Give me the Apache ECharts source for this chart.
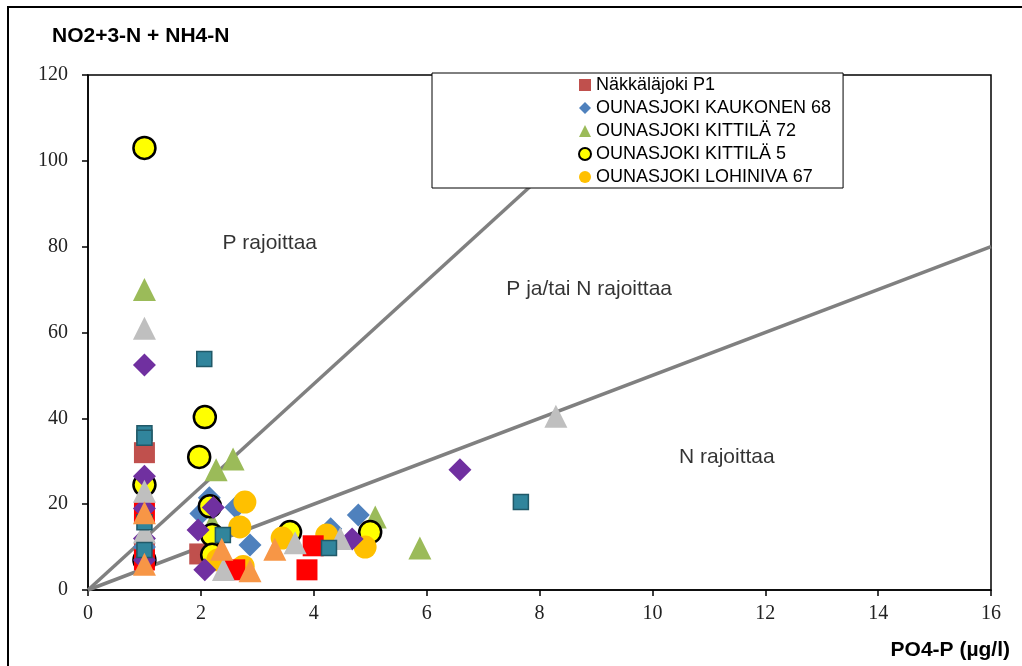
<!DOCTYPE html>
<html><head><meta charset="utf-8">
<script src="https://cdn.jsdelivr.net/npm/echarts@6/dist/echarts.min.js"></script>
<style>html,body{margin:0;padding:0;background:#fff}#c{width:1022px;height:666px}</style>
</head><body><div id="c"></div>
<script>
// ---- axes ----
const xMin = 0, xMax = 16, xStep = 2;
const yMin = 0, yMax = 120, yStep = 20;
const yTitle = 'NO2+3-N + NH4-N';
const xTitle = 'PO4-P (µg/l)';

// ---- N:P ratio limit lines (slopes) ----
const limitSlopes = [5, 12];

// ---- region labels [x, y, text] ----
const regionLabels = [
  [3.22, 80.9, 'P rajoittaa'],
  [8.88, 70.1, 'P ja/tai N rajoittaa'],
  [11.32, 31.0, 'N rajoittaa']
];

// ---- series data [PO4-P, N] ----
const nakkalajokiP1 = [[1,32],[1,9],[1.98,8.4]];
const kaukonen68 = [[2.15,21.5],[2.62,19.3],[2.0,17.8],[2.87,10.5],[4.3,14.3],[4.79,17.5],[1,10]];
const kittila72 = [[1,70],[2.27,28],[2.57,30.5],[5.09,17],[5.88,9.8],[2.2,15.5]];
const kittila5 = [[1,103],[2.07,40.3],[1.97,31],[1,24.5],[2.16,19.5],[2.2,12.8],[2.2,8.2],[3.58,13.5],[5.0,13.5],[1,7]];
const lohiniva67 = [[2.78,20.5],[2.69,14.7],[3.44,12.1],[4.23,12.8],[4.91,10],[2.75,5.5],[2.3,7]];
const purpleSeries = [[1,52.4],[1,26.5],[1,19],[1,12],[1,7],[1.95,14],[2.22,19.2],[2.07,4.7],[4.68,11.9],[6.59,28]];
const graySeries = [[1,61],[8.29,40.5],[2.4,4.8],[3.67,11],[4.47,12],[1,23],[1,13.5]];
const redSeries = [[3.99,10.3],[3.88,4.7],[2.6,4.7],[1,18],[1,7]];
const tealSeries = [[2.06,53.8],[1,36.5],[1,35.5],[7.67,20.5],[4.27,9.8],[2.39,12.8],[1,15.8],[1,9.3]];
const orangeTriSeries = [[1,18],[1,6],[2.37,9.5],[2.87,4.5],[3.31,9.5]];

const legendNames = ['Näkkäläjoki P1','OUNASJOKI KAUKONEN 68','OUNASJOKI KITTILÄ 72','OUNASJOKI KITTILÄ 5','OUNASJOKI LOHINIVA 67'];

function sc(name, data, symbol, size, color, border, bw) {
  return {
    type: 'scatter', name: name, data: data, symbol: symbol, symbolSize: size,
    itemStyle: { color: color, borderColor: border || color, borderWidth: bw || 0, opacity: 1 },
    emphasis: { disabled: true }, z: 3
  };
}

function limitLine(s) {
  const xe = Math.min(xMax, yMax / s);
  return {
    type: 'line', data: [[0, 0], [xe, xe * s]], symbol: 'none', silent: true,
    lineStyle: { color: '#808080', width: 3.5 }, z: 2, emphasis: { disabled: true }
  };
}

const chart = echarts.init(document.getElementById('c'));
chart.setOption({
  animation: false,
  backgroundColor: '#fff',
  title: [
    { text: yTitle, left: 52, top: 26, padding: 0,
      textStyle: { fontFamily: 'Liberation Sans', fontWeight: 'bold', fontSize: 21, color: '#000' } },
    { text: xTitle, right: 12, top: 640, padding: 0,
      textStyle: { fontFamily: 'Liberation Sans', fontWeight: 'bold', fontSize: 21, color: '#000' } }
  ],
  graphic: [{
    type: 'rect', shape: { x: 8, y: 7, width: 1040, height: 720 },
    style: { fill: null, stroke: '#000', lineWidth: 2 }, silent: true, z: -1
  }],
  grid: { left: 88, right: 31, top: 75, bottom: 76, show: true, borderColor: '#000', borderWidth: 1.5 },
  legend: {
    data: legendNames, orient: 'vertical', left: 432, top: 73,
    padding: [3, 12, 2, 146], itemGap: 5, itemWidth: 12, itemHeight: 12,
    backgroundColor: '#fff', borderColor: '#000', borderWidth: 1,
    textStyle: { fontFamily: 'Liberation Sans', fontSize: 18, color: '#000' },
    selectedMode: false, z: 10
  },
  xAxis: {
    type: 'value', min: xMin, max: xMax, interval: xStep,
    axisLine: { show: true, lineStyle: { color: '#000', width: 1.5 } },
    axisTick: { show: true, length: 6, lineStyle: { color: '#000', width: 1.5 } },
    axisLabel: { fontFamily: 'Liberation Serif', fontSize: 20, color: '#222', margin: 14 },
    splitLine: { show: false }
  },
  yAxis: {
    type: 'value', min: yMin, max: yMax, interval: yStep,
    axisLine: { show: true, lineStyle: { color: '#000', width: 1.5 } },
    axisTick: { show: true, length: 6, lineStyle: { color: '#000', width: 1.5 } },
    axisLabel: { fontFamily: 'Liberation Serif', fontSize: 20, color: '#222', margin: 20 },
    splitLine: { show: false }
  },
  series: [
    limitLine(limitSlopes[0]),
    limitLine(limitSlopes[1]),
    {
      type: 'scatter', data: regionLabels.map(d => ({ value: [d[0], d[1]], label: { formatter: d[2] } })),
      symbolSize: 0, silent: true, z: 4,
      label: { show: true, position: 'inside', fontFamily: 'Liberation Sans', fontSize: 21, color: '#000' }
    },
    sc(legendNames[0], nakkalajokiP1, 'rect', 21, '#C0504D'),
    sc(legendNames[1], kaukonen68, 'diamond', 23, '#4F81BD'),
    sc(legendNames[2], kittila72, 'triangle', 23, '#9BBB59'),
    sc(legendNames[3], kittila5, 'circle', 22, '#FFFF00', '#000', 2.5),
    sc(legendNames[4], lohiniva67, 'circle', 23, '#FFC000'),
    sc('Sarja8', redSeries, 'rect', 21, '#FF0000'),
    sc('Sarja6', purpleSeries, 'diamond', 23, '#7030A0'),
    sc('Sarja7', graySeries, 'triangle', 23, '#BFBFBF'),
    sc('Sarja9', tealSeries, 'rect', 15, '#31859C', '#215968', 1.5),
    sc('Sarja10', orangeTriSeries, 'triangle', 23, '#F79646')
  ]
});
</script></body></html>
